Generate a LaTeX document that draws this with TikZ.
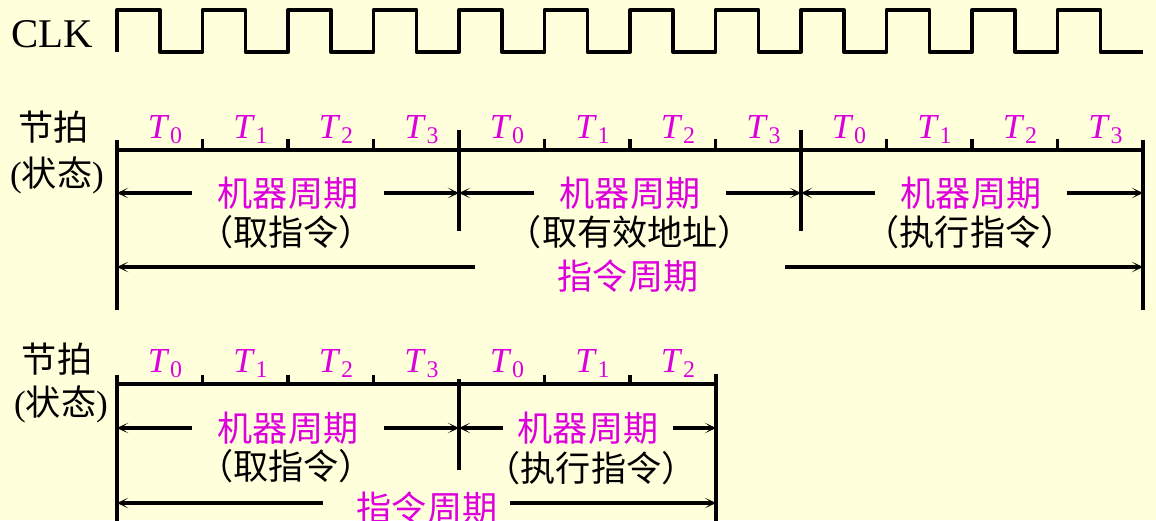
\documentclass[tikz,border=0pt]{standalone}
\usepackage{fontspec}
\setmainfont{Liberation Serif}
\newfontfamily\cjk{Noto Sans CJK SC}
\usetikzlibrary{arrows.meta}
\definecolor{paper}{HTML}{FFFFDC}
\definecolor{beatmag}{HTML}{DD00DD}
\newcommand{\Tst}[1]{\textit{T}\kern0.5pt\raisebox{-4pt}{\fontsize{17}{17}\selectfont #1}}

\begin{document}
\begin{tikzpicture}[x=0.025cm, y=-0.025cm,
  clkline/.style={line width=2.8pt, line join=round},
  axis/.style={line width=2.8pt},
  tickmark/.style={line width=2.2pt},
  dim/.style={line width=2.3pt, -{Stealth[length=8pt,width=7.5pt,inset=5pt]}},
  rowlab/.style={font=\cjk\fontsize{25}{30}\selectfont, inner sep=0pt},
  tlab/.style={anchor=base, text=beatmag, font=\fontsize{25}{30}\selectfont, inner sep=0pt},
  cyc/.style={text=beatmag, font=\cjk\fontsize{25}{30}\selectfont, inner ysep=0pt, inner xsep=18pt},
  what/.style={font=\cjk\fontsize{25}{30}\selectfont, inner sep=0pt}]

  \path[use as bounding box, fill=paper] (0,0) rectangle (1156,520);

  \node[font=\fontsize{29}{34}\selectfont, anchor=base west, inner sep=0pt] (clk) at (11,47) {CLK};
  \draw[clkline] (117,52) \foreach \k in {0,...,11} { -- ++(0,-42) -- ++(43,0) -- ++(0,42) -- ++(42.5,0) };

  % three machine cycles
  \node[rowlab] (beatA) at (54,127) {节拍};
  \node[rowlab] (stateA) at (57,175) {{\rmfamily(}状态{\rmfamily)}};
  \coordinate (a0) at (117,150);
  \coordinate (a4) at (459,150);
  \coordinate (a8) at (801,150);
  \coordinate (a12) at (1143,150);
  \draw[axis] (a0) -- (a12);
  \draw[axis] (117,140) -- (117,310);
  \draw[axis] (1143,140) -- (1143,310);
  \foreach \x in {459,801} \draw[axis] (\x,130) -- (\x,231);
  \foreach \k in {1,2,3,5,6,7,9,10,11} \draw[tickmark] ({117+85.5*\k},139) -- ++(0,11);
  \foreach \k in {0,...,11} {
    \pgfmathtruncatemacro\s{mod(\k,4)}
    \node[tlab] (tA\k) at ({117+85.5*\k+48},138) {\Tst{\s}};
  }

  \node[cyc] (mA1) at (288,193) {机器周期};
  \node[cyc] (mA2) at (630,193) {机器周期};
  \node[cyc] (mA3) at (971,193) {机器周期};
  \draw[dim] (mA1.west) -- (mA1.west -| a0);
  \draw[dim] (mA1.east) -- (mA1.east -| a4);
  \draw[dim] (mA2.west) -- (mA2.west -| a4);
  \draw[dim] (mA2.east) -- (mA2.east -| a8);
  \draw[dim] (mA3.west) -- (mA3.west -| a8);
  \draw[dim] (mA3.east) -- (mA3.east -| a12);
  \node[what] (wA1) at (286,232) {（取指令）};
  \node[what] (wA2) at (630,232) {（取有效地址）};
  \node[what] (wA3) at (970,232) {（执行指令）};

  \node[cyc, inner xsep=0pt] (iA) at (628,276) {指令周期};
  \coordinate (iAl) at (475,267);
  \coordinate (iAr) at (785,267);
  \draw[dim] (iAl) -- (iAl -| a0);
  \draw[dim] (iAr) -- (iAr -| a12);

  % two machine cycles
  \begin{scope}[shift={(0,234)}]
    \node[rowlab] (beatB) at (57,125) {节拍};
    \node[rowlab] (stateB) at (61,170) {{\rmfamily(}状态{\rmfamily)}};
    \coordinate (b0) at (117,150);
    \coordinate (b4) at (459,150);
    \coordinate (b7) at (716,150);
    \draw[axis] (b0) -- (b7);
    \draw[axis] (117,141) -- (117,300);
    \draw[axis] (716,140) -- (716,300);
    \draw[axis] (459,145) -- (459,236);
    \foreach \k in {1,2,3,5,6} \draw[tickmark] ({117+85.5*\k},141) -- ++(0,9);
    \foreach \k in {0,...,6} {
      \pgfmathtruncatemacro\s{mod(\k,4)}
      \node[tlab] (tB\k) at ({117+85.5*\k+48},138) {\Tst{\s}};
    }

    \node[cyc] (mB1) at (288,194) {机器周期};
    \node[cyc, inner xsep=10pt] (mB2) at (588,194) {机器周期};
    \draw[dim] (mB1.west) -- (mB1.west -| b0);
    \draw[dim] (mB1.east) -- (mB1.east -| b4);
    \draw[dim] (mB2.west) -- (mB2.west -| b4);
    \draw[dim] (mB2.east) -- (mB2.east -| b7);
    \node[what] (wB1) at (286,232) {（取指令）};
    \node[what] (wB2) at (591,234) {（执行指令）};

    \node[cyc, inner xsep=0pt] (iB) at (427,274) {指令周期};
    \coordinate (iBl) at (323,269);
    \coordinate (iBr) at (510,269);
    \draw[dim] (iBl) -- (iBl -| b0);
    \draw[dim] (iBr) -- (iBr -| b7);
  \end{scope}
\end{tikzpicture}
\end{document}
